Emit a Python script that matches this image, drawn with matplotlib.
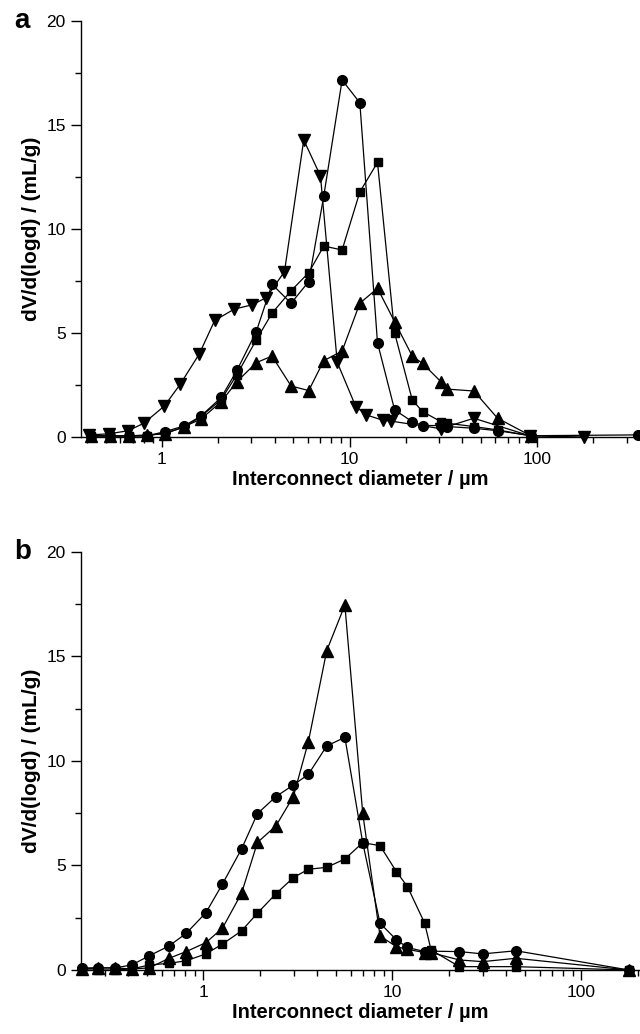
import matplotlib
matplotlib.use("Agg")
import matplotlib.pyplot as plt
from matplotlib.ticker import LogLocator, FixedLocator, FixedFormatter, MultipleLocator, NullFormatter

plt.rcParams["font.family"] = ["Liberation Sans", "DejaVu Sans"]

# ---- panel a ----
a_x = [0.42, 0.53, 0.67, 0.83, 1.04, 1.31, 1.61, 2.07, 2.51, 3.18, 3.86, 4.88, 6.06,
       7.29, 9.13, 11.35, 14.1, 17.4, 21.6, 24.5, 30.7, 33.3, 46, 61.6, 92.9]
a_circle = [0.05, 0.05, 0.05, 0.05, 0.26, 0.53, 1.0, 1.9, 3.2, 5.06, 7.34, 6.43, 7.47,
            11.59, 17.16, 16.07, 4.53, 1.3, 0.74, 0.55, 0.55, 0.5, 0.42, 0.3, 0.06]
a_square = [0.05, 0.05, 0.05, 0.05, 0.2, 0.45, 0.98, 1.8, 3.0, 4.66, 5.95, 7.03, 7.9,
            9.18, 8.99, 11.78, 13.2, 5.0, 1.78, 1.22, 0.74, 0.66, 0.5, 0.34, 0.05]
a_triangle = [0.05, 0.05, 0.05, 0.1, 0.15, 0.5, 0.85, 1.7, 2.66, 3.57, 3.89, 2.45, 2.23,
              3.67, 4.13, 6.43, 7.15, 5.54, 3.89, 3.54, 2.66, 2.3, 2.21, 0.9, 0.05]
a_circle_tail_x = [92.9, 345]
a_circle_tail = [0.06, 0.1]

a_down_x = [0.41, 0.52, 0.66, 0.80, 1.03, 1.25, 1.58, 1.91, 2.43, 3.02, 3.6, 4.5, 5.7,
            7.0, 8.6, 10.8, 12.3, 15.1, 16.7, 30.7, 46, 92, 179]
a_down = [0.1, 0.15, 0.3, 0.66, 1.49, 2.53, 3.99, 5.6, 6.15, 6.35, 6.7, 7.95, 14.28,
          12.55, 3.59, 1.46, 1.06, 0.8, 0.76, 0.4, 0.9, 0.05, 0.0]

# ---- panel b ----
b_x = [0.227, 0.277, 0.34, 0.417, 0.517, 0.657, 0.81, 1.03, 1.26, 1.59, 1.93, 2.42,
       2.99, 3.59, 4.49, 5.6, 6.96, 8.59, 10.5, 12.0, 14.8, 16.0, 22.6, 30, 45, 178]
b_circle = [0.1, 0.1, 0.1, 0.24, 0.68, 1.15, 1.75, 2.74, 4.11, 5.79, 7.48, 8.3,
            8.85, 9.36, 10.72, 11.13, 6.09, 2.24, 1.44, 1.08, 0.88, 0.9, 0.88, 0.77, 0.92, 0.0]
b_triangle = [0.05, 0.1, 0.1, 0.05, 0.1, 0.56, 0.88, 1.31, 2.0, 3.67, 6.1, 6.9,
              8.3, 10.92, 15.28, 17.46, 7.5, 1.63, 1.11, 0.99, 0.83, 0.83, 0.48, 0.4, 0.56, 0.0]
b_square = [0.0, 0.0, 0.0, 0.05, 0.24, 0.32, 0.44, 0.77, 1.24, 1.87, 2.72, 3.65,
            4.42, 4.82, 4.91, 5.31, 6.09, 5.95, 4.7, 3.99, 2.24, 0.96, 0.16, 0.16, 0.16, 0.0]

fig = plt.figure(figsize=(6.4, 10.34), dpi=100)
ax_a = fig.add_axes([0.1266, 0.5774, 0.8734, 0.4023])
ax_b = fig.add_axes([0.1266, 0.0619, 0.8734, 0.4043])

line_kw = dict(color="black", linewidth=0.9, markeredgecolor="black",
               markerfacecolor="black", clip_on=False)

ax_a.plot(a_x, a_circle, marker="o", markersize=7, **line_kw)
ax_a.plot(a_circle_tail_x, a_circle_tail, marker="o", markersize=7, **line_kw)
ax_a.plot(a_x, a_square, marker="s", markersize=6.3, **line_kw)
ax_a.plot(a_x, a_triangle, marker="^", markersize=8, **line_kw)
ax_a.plot(a_down_x, a_down, marker="v", markersize=8, **line_kw)
ax_a.set_xlim(0.37, 354)

ax_b.plot(b_x, b_circle, marker="o", markersize=7, **line_kw)
ax_b.plot(b_x, b_triangle, marker="^", markersize=8, **line_kw)
ax_b.plot(b_x, b_square, marker="s", markersize=6.3, **line_kw)
ax_b.set_xlim(0.225, 204)

for ax, letter in ((ax_a, "a"), (ax_b, "b")):
    ax.set_xscale("log")
    ax.set_ylim(0, 20)
    ax.spines["top"].set_visible(False)
    ax.spines["right"].set_visible(False)
    ax.spines["left"].set_linewidth(1.0)
    ax.spines["bottom"].set_linewidth(1.0)
    ax.yaxis.set_major_locator(MultipleLocator(5))
    ax.yaxis.set_minor_locator(MultipleLocator(2.5))
    ax.xaxis.set_major_locator(FixedLocator([1, 10, 100]))
    ax.xaxis.set_major_formatter(FixedFormatter(["1", "10", "100"]))
    ax.xaxis.set_minor_locator(LogLocator(base=10, subs=range(2, 10)))
    ax.xaxis.set_minor_formatter(NullFormatter())
    ax.tick_params(which="major", direction="out", length=7, width=1.0,
                   labelsize=12.5, pad=4)
    ax.tick_params(which="minor", direction="out", length=4, width=1.0)
    ax.set_xlabel("Interconnect diameter / µm", fontsize=14.5, fontweight="bold", labelpad=2)
    ax.set_ylabel("dV/d(logd) / (mL/g)", fontsize=15, fontweight="bold", labelpad=4)
    ax.text(-0.105, 1.0, letter, transform=ax.transAxes, fontsize=20,
            fontweight="bold", ha="center", va="center")

fig.savefig("out.png", dpi=100)
